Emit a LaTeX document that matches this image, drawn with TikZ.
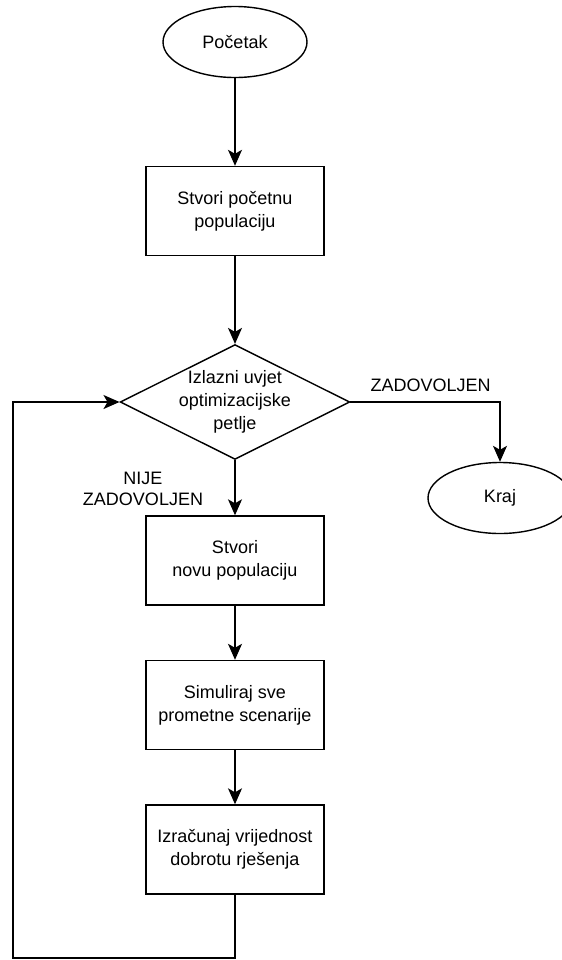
\documentclass[tikz,border=0pt]{standalone}
\usepackage{fontspec}
\setmainfont{Liberation Sans}
\usetikzlibrary{shapes.geometric,arrows.meta}

\begin{document}
\begin{tikzpicture}[x=0.5pt, y=-0.5pt, font=\fontsize{9}{11.5}\selectfont,
	line width=0.7pt,
	terminal/.style={draw, ellipse, minimum width=72pt, minimum height=35.5pt, inner sep=0pt},
	process/.style={draw, rectangle, minimum width=89pt, minimum height=44.5pt, align=center},
	decision/.style={draw, diamond, aspect=2, inner xsep=0pt, inner ysep=-1pt, align=center},
	flow/.style={-{Stealth[length=8pt, width=7pt, inset=2pt]}}]
	\useasboundingbox (0,0) rectangle (562,960);
	%nodes
	\node[terminal] (start) at (235,42) {Početak};
	\node[process] (init) at (235,211) {Stvori početnu\\populaciju};
	\node[decision] (cond) at (235,402) {Izlazni uvjet\\optimizacijske\\petlje};
	\node[process] (newpop) at (235,560.5) {Stvori\\novu populaciju};
	\node[process] (sim) at (235,705) {Simuliraj sve\\prometne scenarije};
	\node[process] (eval) at (235,849.5) {Izračunaj vrijednost\\dobrotu rješenja};
	\node[terminal] (stop) at (500,498) {Kraj};
	%labels
	\node[anchor=west, inner sep=0pt] (yes) at (370,385) {ZADOVOLJEN};
	\node[align=center, inner sep=0pt, font=\fontsize{9}{10.5}\selectfont] (no) at (143,489) {NIJE\\ZADOVOLJEN};
	%connectors
	\coordinate (loop) at (13,958);
	\draw[flow] (start) -- (init);
	\draw[flow] (init) -- (cond);
	\draw[flow] (cond) -- (newpop);
	\draw[flow] (newpop) -- (sim);
	\draw[flow] (sim) -- (eval);
	\draw[flow] (cond.east) -| (stop.north);
	\draw[flow] (eval.south) |- (loop) |- (cond.west);
\end{tikzpicture}
\end{document}
